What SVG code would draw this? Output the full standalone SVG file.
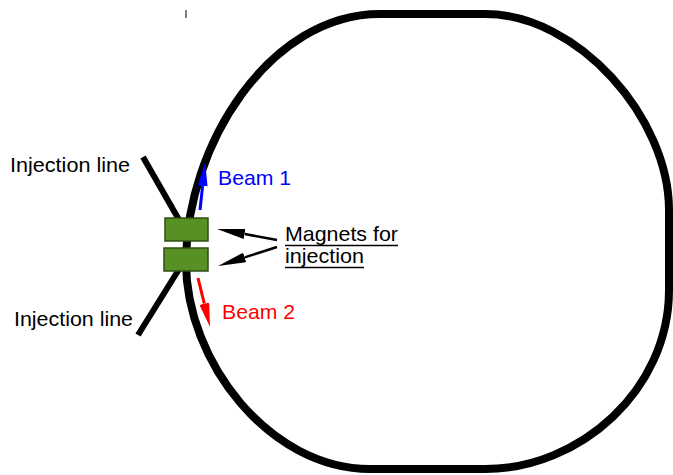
<svg xmlns="http://www.w3.org/2000/svg" width="673" height="475" viewBox="0 0 673 475">
<style>
.lbl{font-family:"Liberation Sans",Arial,sans-serif;font-size:20.8px}
.ring{fill:none;stroke:#000;stroke-width:8}
.inj{stroke:#000;stroke-width:6;fill:none}
.mag{fill:#579126;stroke:#2f4d12;stroke-width:1.5}
</style>
<defs>
<marker id="hb" markerUnits="userSpaceOnUse" markerWidth="24" markerHeight="10" refX="0" refY="5" orient="auto" viewBox="0 0 24 10"><path d="M0,0 L24,5 L0,10 z" fill="#0000ff"/></marker>
<marker id="hr" markerUnits="userSpaceOnUse" markerWidth="24" markerHeight="10" refX="0" refY="5" orient="auto" viewBox="0 0 24 10"><path d="M0,0 L24,5 L0,10 z" fill="#ff0000"/></marker>
<marker id="hk" markerUnits="userSpaceOnUse" markerWidth="28" markerHeight="10" refX="0" refY="5" orient="auto" viewBox="0 0 28 10"><path d="M0,0 L28,5 L0,10 z" fill="#000"/></marker>
</defs>
<rect width="673" height="475" fill="#fff"/>
<line x1="186" y1="10" x2="186" y2="18" stroke="#555" stroke-width="1.5"/>
<g id="ring">
<path class="ring" d="M380,14 L485,14 C578,14 669,118 669,210 L669,290 C669,390 580,469 485,469 L370,469 C270,469 186,362 186,262 C186,145 270,14 380,14 Z"/>
</g>
<g id="injection-lines">
<line class="inj" x1="143" y1="157" x2="186" y2="232"/>
<line class="inj" x1="138" y1="335" x2="186" y2="258"/>
</g>
<g id="magnets">
<rect class="mag" x="165" y="218" width="43" height="23"/>
<rect class="mag" x="164" y="248" width="44" height="23"/>
</g>
<g id="connectors">
<line x1="200" y1="210" x2="202.6" y2="186" stroke="#0000ff" stroke-width="3" marker-end="url(#hb)"/>
<line x1="198" y1="278" x2="204.3" y2="303.7" stroke="#ff0000" stroke-width="3" marker-end="url(#hr)"/>
<line x1="277" y1="240" x2="244.6" y2="234" stroke="#000" stroke-width="2.5" marker-end="url(#hk)"/>
<line x1="277" y1="247" x2="244.7" y2="257.4" stroke="#000" stroke-width="2.5" marker-end="url(#hk)"/>
</g>
<g id="labels">
<text class="lbl" x="10" y="172" textLength="120" lengthAdjust="spacingAndGlyphs">Injection line</text>
<text class="lbl" x="14" y="326" textLength="119" lengthAdjust="spacingAndGlyphs">Injection line</text>
<text class="lbl" x="218" y="185" fill="#0000ff" textLength="73" lengthAdjust="spacingAndGlyphs">Beam 1</text>
<text class="lbl" x="222" y="319" fill="#ff0000" textLength="73" lengthAdjust="spacingAndGlyphs">Beam 2</text>
<text class="lbl" x="285" y="241" textLength="113" lengthAdjust="spacingAndGlyphs">Magnets for</text>
<text class="lbl" x="285" y="263" textLength="79" lengthAdjust="spacingAndGlyphs">injection</text>
<line x1="285" y1="245.5" x2="398" y2="245.5" stroke="#000" stroke-width="1.5"/>
<line x1="285" y1="267.5" x2="364" y2="267.5" stroke="#000" stroke-width="1.5"/>
</g>
</svg>
